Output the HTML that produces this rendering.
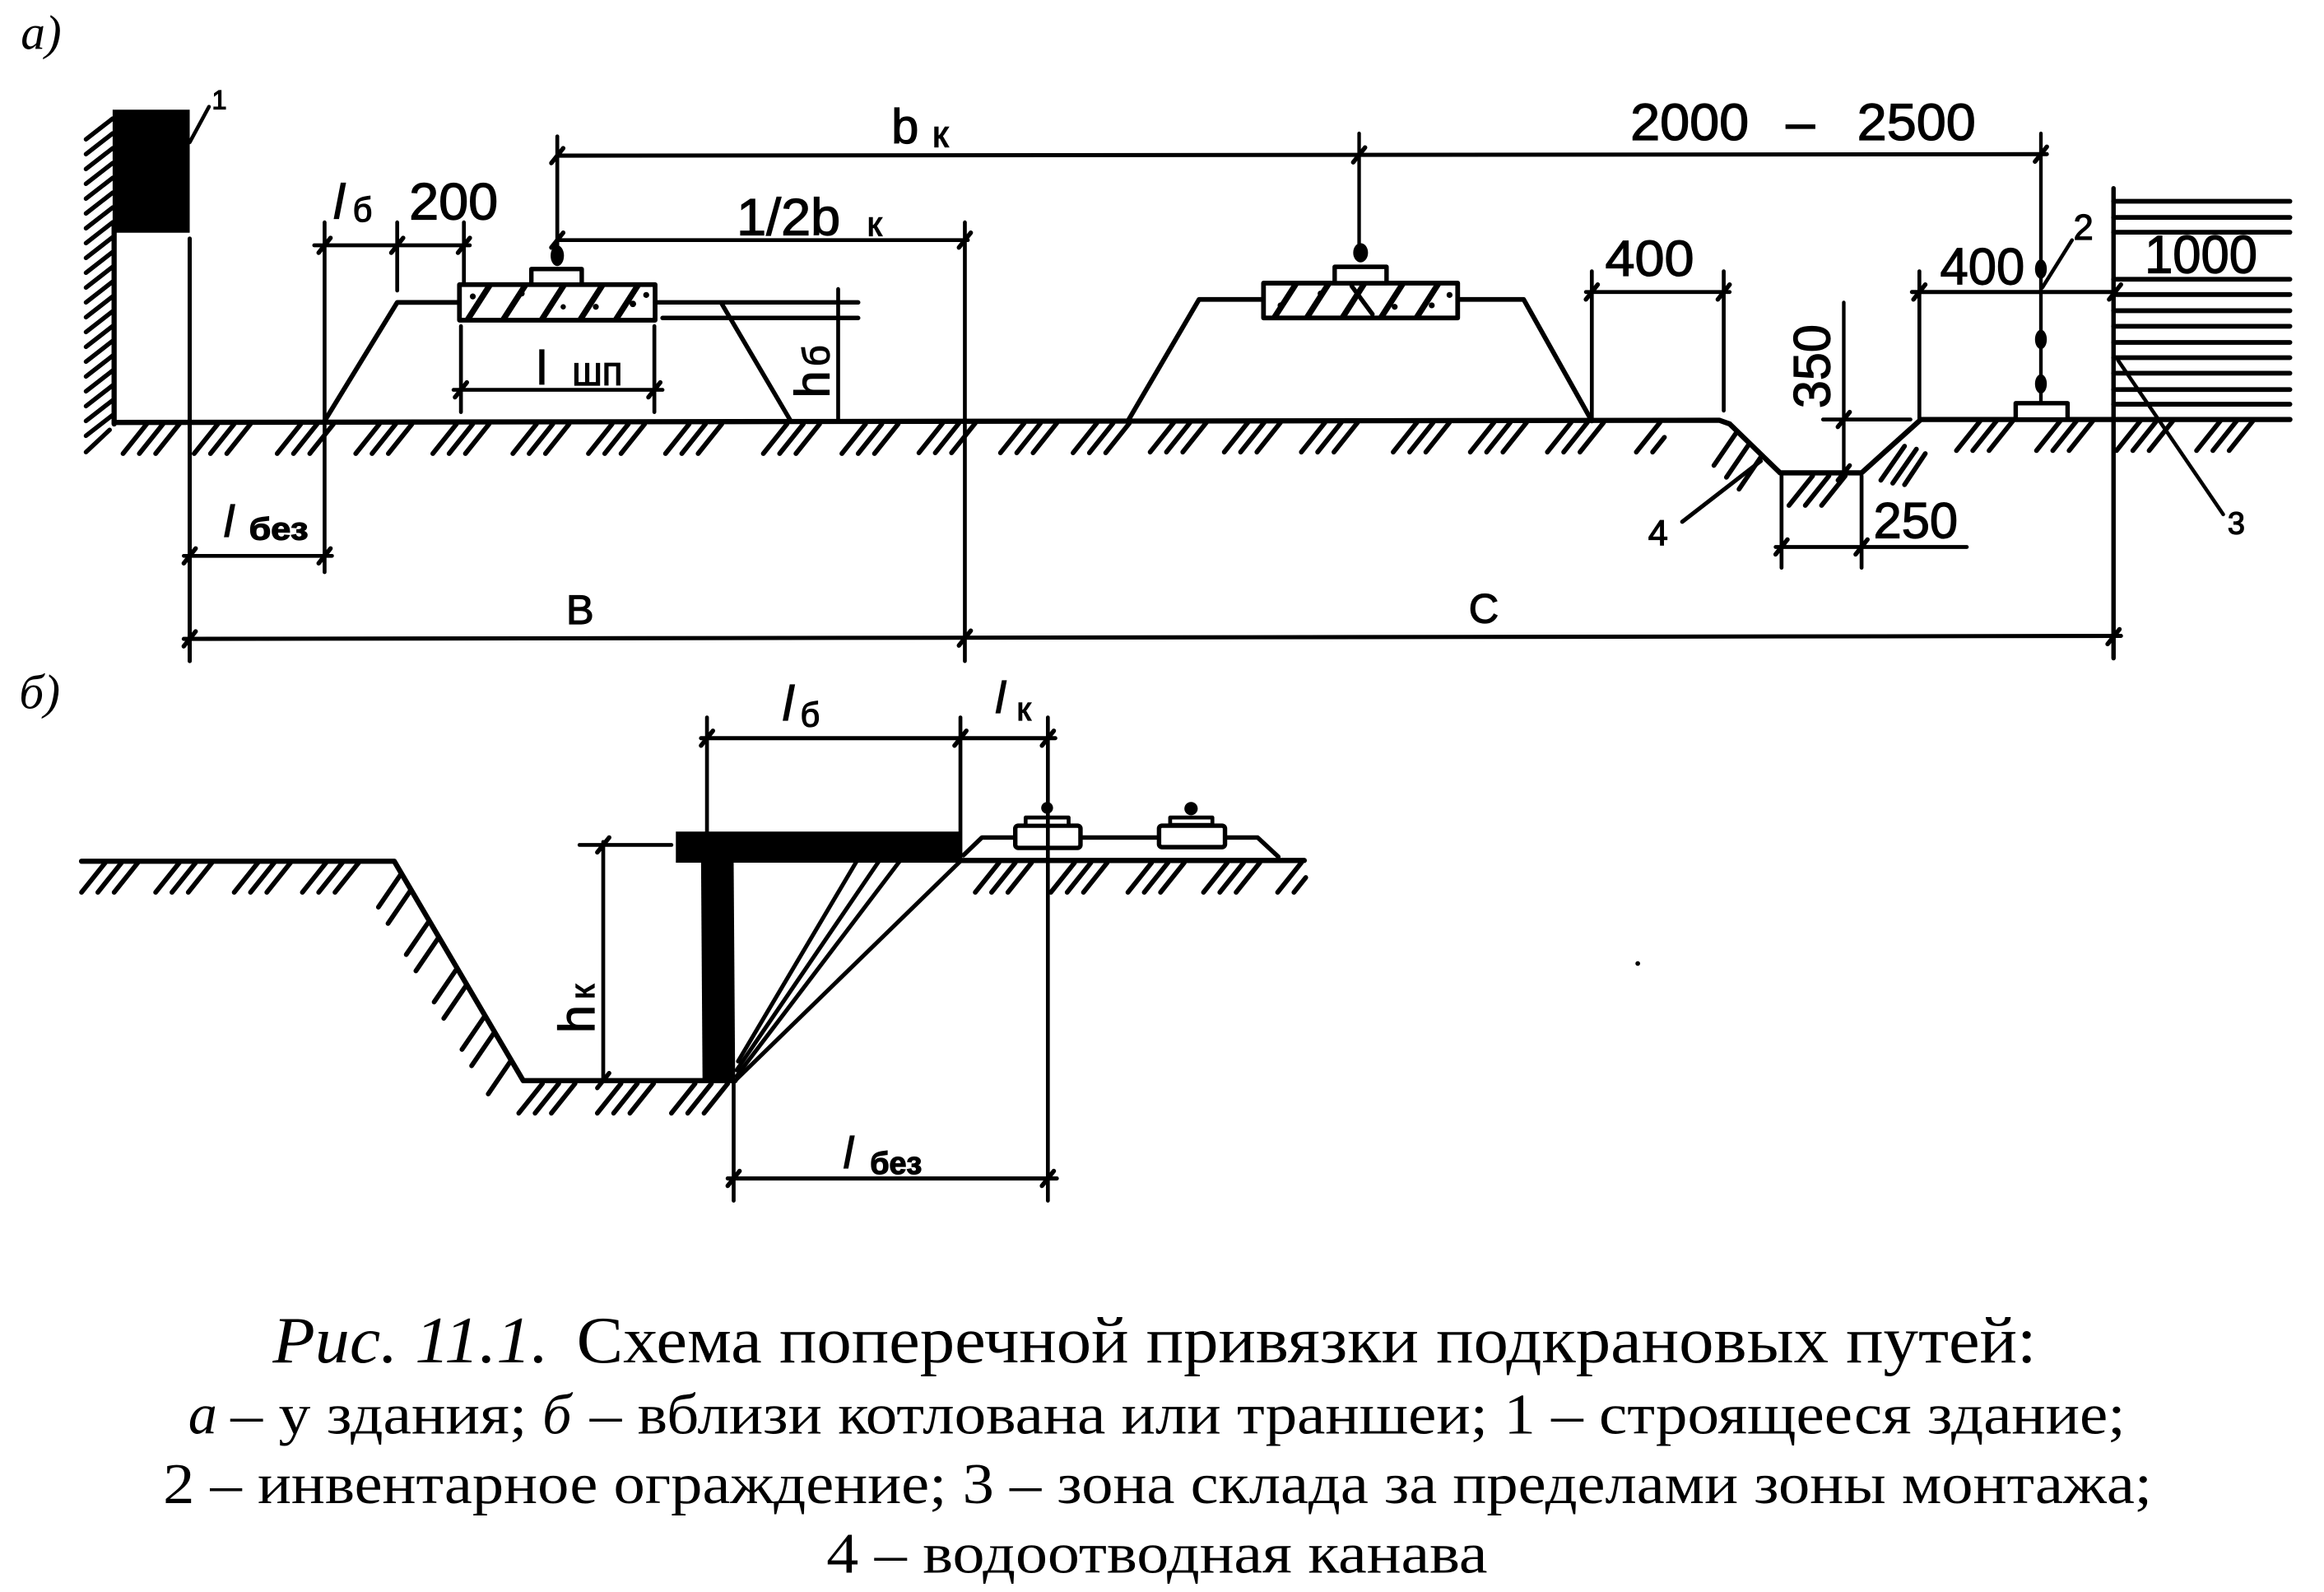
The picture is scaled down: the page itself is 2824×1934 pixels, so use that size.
<!DOCTYPE html>
<html><head><meta charset="utf-8">
<style>
html,body{margin:0;padding:0;background:#fff;}
svg{display:block;}
.t{font-family:"Liberation Sans",sans-serif;fill:#000;stroke:#000;stroke-width:0.7;}
.s{font-family:"Liberation Serif",serif;fill:#000;}
</style></head><body>
<svg width="2824" height="1934" viewBox="0 0 1568 1074" preserveAspectRatio="none" xmlns="http://www.w3.org/2000/svg">
<defs>
<g id="h3" stroke="#000" stroke-width="3.2" stroke-linecap="round" fill="none">
<line x1="0" y1="21" x2="16" y2="1"/>
<line x1="11" y1="21" x2="27" y2="1"/>
<line x1="22" y1="21" x2="38" y2="1"/>
</g>
<g id="h2" stroke="#000" stroke-width="3.2" stroke-linecap="round" fill="none">
<line x1="0" y1="21" x2="16" y2="1"/>
<line x1="11" y1="21" x2="19" y2="11"/>
</g>
<g id="tk"><line x1="-4" y1="5" x2="4" y2="-5" stroke="#000" stroke-width="3" stroke-linecap="round"/></g>
<clipPath id="c1"><rect x="310" y="192" width="132" height="24"/></clipPath>
<clipPath id="c2"><rect x="852.5" y="191" width="131" height="23.5"/></clipPath>
</defs>
<rect x="0" y="0" width="1568" height="1074" fill="#fff"/>

<!-- ========== PART A ========== -->
<text class="s" x="14" y="33" font-size="33" font-style="italic">а)</text>

<g stroke="#000" fill="none" stroke-linecap="round" stroke-linejoin="round">
<!-- building -->
<rect x="76" y="74" width="52" height="83" fill="#000" stroke="none"/>
<line x1="77" y1="150" x2="77" y2="286" stroke-width="3.5"/>
<g stroke-width="3">
<line x1="58" y1="94" x2="76" y2="80"/><line x1="58" y1="104" x2="76" y2="90"/>
<line x1="58" y1="114" x2="76" y2="100"/><line x1="58" y1="124" x2="76" y2="110"/>
<line x1="58" y1="134" x2="76" y2="120"/><line x1="58" y1="144" x2="76" y2="130"/>
<line x1="58" y1="154" x2="76" y2="140"/><line x1="58" y1="164" x2="76" y2="150"/>
<line x1="58" y1="174" x2="76" y2="160"/><line x1="58" y1="184" x2="76" y2="170"/>
<line x1="58" y1="194" x2="76" y2="180"/><line x1="58" y1="204" x2="76" y2="190"/>
<line x1="58" y1="214" x2="76" y2="200"/><line x1="58" y1="224" x2="76" y2="210"/>
<line x1="58" y1="234" x2="76" y2="220"/><line x1="58" y1="244" x2="76" y2="230"/>
<line x1="58" y1="254" x2="76" y2="240"/><line x1="58" y1="264" x2="76" y2="250"/>
<line x1="58" y1="274" x2="76" y2="260"/><line x1="58" y1="284" x2="76" y2="270"/>
<line x1="58" y1="294" x2="76" y2="280"/><line x1="58" y1="305" x2="74" y2="290"/>
</g>
<line x1="128" y1="96" x2="141" y2="72" stroke-width="2.5"/>
<line x1="128" y1="161" x2="128" y2="446" stroke-width="2.8"/>

<!-- ground -->
<polyline points="77,285 1160,283.5 1167,286 1201,319 1256,319 1296,283 1545,283" stroke-width="3.5"/>

<!-- left embankment -->
<polyline points="219,284 268,204 310,204" stroke-width="3.2"/>
<rect x="310" y="192" width="132" height="24" fill="#fff" stroke-width="3.2"/>
<g clip-path="url(#c1)" stroke-width="4">
<line x1="314" y1="218" x2="332" y2="190"/><line x1="338" y1="218" x2="356" y2="190"/>
<line x1="364" y1="218" x2="382" y2="190"/><line x1="390" y1="218" x2="408" y2="190"/>
<line x1="414" y1="218" x2="432" y2="190"/>
</g>
<g fill="#000" stroke="none">
<circle cx="319" cy="200" r="2"/><circle cx="352" cy="198" r="2"/><circle cx="402" cy="207" r="2"/>
<circle cx="427" cy="205" r="2.2"/><circle cx="436" cy="199" r="2"/><circle cx="380" cy="207" r="1.8"/>
</g>
<rect x="358.5" y="181.5" width="34" height="10.5" fill="#fff" stroke-width="3"/>
<ellipse cx="376" cy="172.5" rx="4.5" ry="7" fill="#000" stroke="none"/>
<line x1="376" y1="92" x2="376" y2="172" stroke-width="2.6"/>
<line x1="442" y1="204" x2="579" y2="204" stroke-width="3"/>
<line x1="447" y1="214.5" x2="579" y2="214.5" stroke-width="3"/>
<line x1="487" y1="205" x2="533.5" y2="284" stroke-width="3"/>
<line x1="565.5" y1="195" x2="565.5" y2="284" stroke-width="2.6"/>

<!-- lб / 200 -->
<line x1="212" y1="165.5" x2="317" y2="165.5" stroke-width="2.6"/>
<line x1="219" y1="150" x2="219" y2="386" stroke-width="2.6"/>
<line x1="268" y1="150" x2="268" y2="196" stroke-width="2.6"/>
<line x1="313" y1="150" x2="313" y2="192" stroke-width="2.6"/>

<!-- 1/2 bк -->
<line x1="376" y1="162" x2="653" y2="162" stroke-width="2.6"/>
<line x1="651" y1="150" x2="651" y2="446" stroke-width="2.6"/>
<!-- bк -->
<line x1="376" y1="105" x2="1381" y2="104" stroke-width="2.8"/>
<line x1="917" y1="90" x2="917" y2="170" stroke-width="2.4"/>

<!-- lшп -->
<line x1="311" y1="220" x2="311" y2="278" stroke-width="2.6"/>
<line x1="441.5" y1="220" x2="441.5" y2="278" stroke-width="2.6"/>
<line x1="306" y1="263" x2="447" y2="263" stroke-width="2.6"/>

<!-- lбез -->
<line x1="124" y1="375" x2="224" y2="375" stroke-width="2.6"/>

<!-- B / C -->
<line x1="124" y1="431" x2="1431" y2="429" stroke-width="2.8"/>

<!-- middle embankment -->
<polyline points="761,284 809,202 852.5,202" stroke-width="3.2"/>
<rect x="852.5" y="191" width="131" height="23.5" fill="#fff" stroke-width="3.2"/>
<g clip-path="url(#c2)" stroke-width="4">
<line x1="858" y1="217" x2="876" y2="189"/><line x1="880" y1="217" x2="898" y2="189"/>
<line x1="904" y1="217" x2="922" y2="189"/><line x1="930" y1="217" x2="948" y2="189"/>
<line x1="954" y1="217" x2="972" y2="189"/>
<line x1="912" y1="193" x2="926" y2="212" stroke-width="3"/>
</g>
<g fill="#000" stroke="none">
<circle cx="864" cy="206" r="2"/><circle cx="891" cy="198" r="2"/><circle cx="941" cy="207" r="2"/>
<circle cx="966" cy="206" r="2"/><circle cx="978" cy="199" r="2"/>
</g>
<rect x="900.5" y="180" width="35" height="11" fill="#fff" stroke-width="3"/>
<ellipse cx="918" cy="170.5" rx="5" ry="6.5" fill="#000" stroke="none"/>
<polyline points="983.5,202 1028,202 1074,284" stroke-width="3.2"/>

<!-- 400 middle -->
<line x1="1070" y1="197" x2="1167" y2="197" stroke-width="2.6"/>
<line x1="1074" y1="183" x2="1074" y2="284" stroke-width="2.6"/>
<line x1="1163" y1="183" x2="1163" y2="277" stroke-width="2.6"/>

<!-- 350 -->
<line x1="1244" y1="204" x2="1244" y2="319" stroke-width="2.4"/>
<line x1="1230" y1="283" x2="1289" y2="283" stroke-width="2.6"/>

<!-- 250 -->
<line x1="1202" y1="321" x2="1202" y2="383" stroke-width="2.6"/>
<line x1="1256" y1="321" x2="1256" y2="383" stroke-width="2.6"/>
<line x1="1198" y1="369" x2="1327" y2="369" stroke-width="2.6"/>

<!-- leader 4 -->
<line x1="1188" y1="311" x2="1135" y2="352" stroke-width="2.8"/>

<!-- right 400 -->
<line x1="1290" y1="197" x2="1427" y2="197" stroke-width="2.8"/>
<line x1="1295" y1="183" x2="1295" y2="283" stroke-width="2.6"/>

<!-- fence -->
<line x1="1377" y1="90" x2="1377" y2="272" stroke-width="2.4"/>
<ellipse cx="1377" cy="181.5" rx="4" ry="6.5" fill="#000" stroke="none"/>
<ellipse cx="1377" cy="229" rx="4" ry="6.5" fill="#000" stroke="none"/>
<ellipse cx="1377" cy="259" rx="4" ry="6.5" fill="#000" stroke="none"/>
<rect x="1360" y="272" width="35" height="11" fill="#fff" stroke-width="3"/>
<line x1="1378" y1="194" x2="1398" y2="162" stroke-width="2.5"/>

<!-- storage zone -->
<line x1="1426" y1="127" x2="1426" y2="444" stroke-width="3"/>
<g stroke-width="3.2">
<line x1="1426" y1="135.8" x2="1545" y2="135.8"/><line x1="1426" y1="146.7" x2="1545" y2="146.7"/>
<line x1="1426" y1="156.7" x2="1545" y2="156.7"/><line x1="1426" y1="188.4" x2="1545" y2="188.4"/>
<line x1="1426" y1="198.7" x2="1545" y2="198.7"/><line x1="1426" y1="209.6" x2="1545" y2="209.6"/>
<line x1="1426" y1="220.1" x2="1545" y2="220.1"/><line x1="1426" y1="231" x2="1545" y2="231"/>
<line x1="1426" y1="241.3" x2="1545" y2="241.3"/><line x1="1426" y1="251.8" x2="1545" y2="251.8"/>
<line x1="1426" y1="262.8" x2="1545" y2="262.8"/><line x1="1426" y1="272.7" x2="1545" y2="272.7"/>
</g>
<line x1="1429" y1="243" x2="1500" y2="347" stroke-width="2.5"/>

<!-- ditch hatch -->
<g stroke-width="3.2">
<line x1="1171.4" y1="292" x2="1156.4" y2="314"/>
<line x1="1179.8" y1="300" x2="1164.8" y2="322"/>
<line x1="1188.3" y1="308" x2="1173.3" y2="330"/>
<line x1="1269" y1="324" x2="1285" y2="301"/>
<line x1="1277" y1="326" x2="1293" y2="303"/>
<line x1="1285" y1="327" x2="1299" y2="306"/>
</g>
</g>

<!-- ground hatch part a -->
<use href="#h3" x="83" y="285"/><use href="#h3" x="131" y="285"/><use href="#h3" x="187" y="285"/>
<use href="#h3" x="240" y="285"/><use href="#h3" x="292" y="285"/><use href="#h3" x="346" y="285"/>
<use href="#h3" x="397" y="285"/><use href="#h3" x="449" y="285"/><use href="#h3" x="515" y="285"/>
<use href="#h3" x="568" y="285"/><use href="#h3" x="620" y="284.5"/><use href="#h3" x="675" y="284.5"/>
<use href="#h3" x="724" y="284.5"/><use href="#h3" x="776" y="284"/><use href="#h3" x="826" y="284"/>
<use href="#h3" x="878" y="284"/><use href="#h3" x="940" y="284"/><use href="#h3" x="992" y="284"/>
<use href="#h3" x="1044" y="284"/><use href="#h2" x="1104" y="284"/>
<use href="#h3" x="1207" y="320"/>
<use href="#h3" x="1320" y="283"/><use href="#h3" x="1374" y="283"/><use href="#h3" x="1428" y="283"/>
<use href="#h3" x="1482" y="283"/>

<!-- ticks part a -->
<use href="#tk" x="219" y="165.5"/><use href="#tk" x="268" y="165.5"/><use href="#tk" x="313" y="165.5"/>
<use href="#tk" x="376" y="162"/><use href="#tk" x="651" y="162"/>
<use href="#tk" x="376" y="105"/><use href="#tk" x="917" y="104.5"/><use href="#tk" x="1377" y="104"/>
<use href="#tk" x="311" y="263"/><use href="#tk" x="441.5" y="263"/>
<use href="#tk" x="128" y="375"/><use href="#tk" x="219" y="375"/>
<use href="#tk" x="128" y="431"/><use href="#tk" x="651" y="430.5"/><use href="#tk" x="1426" y="429.5"/>
<use href="#tk" x="1074" y="197"/><use href="#tk" x="1163" y="197"/>
<use href="#tk" x="1244" y="283"/><use href="#tk" x="1244" y="319"/>
<use href="#tk" x="1202" y="369"/><use href="#tk" x="1256" y="369"/>
<use href="#tk" x="1295" y="197"/><use href="#tk" x="1427" y="197"/>

<!-- labels part a -->
<text class="t" x="143" y="73.5" font-size="18">1</text>
<text class="t" x="225" y="147.5" font-size="33" font-style="italic">l</text>
<text class="t" x="238" y="149.5" font-size="23">б</text>
<text class="t" x="276" y="148" font-size="35" textLength="60" lengthAdjust="spacingAndGlyphs">200</text>
<text class="t" x="497" y="158.5" font-size="35" textLength="70" lengthAdjust="spacingAndGlyphs">1/2b</text>
<text class="t" x="585" y="159" font-size="23">к</text>
<text class="t" x="601.5" y="96.5" font-size="33">b</text>
<text class="t" x="629" y="99" font-size="25">к</text>
<text class="t" x="1100" y="94.5" font-size="35" textLength="80" lengthAdjust="spacingAndGlyphs">2000</text>
<text class="t" x="1205" y="94.5" font-size="35">–</text>
<text class="t" x="1253" y="94.5" font-size="35" textLength="80" lengthAdjust="spacingAndGlyphs">2500</text>
<text class="t" x="362" y="259" font-size="32">l</text>
<text class="t" x="386" y="260" font-size="28" textLength="34" lengthAdjust="spacingAndGlyphs">шп</text>
<text class="t" transform="translate(559.5,268.5) rotate(-90)"><tspan font-size="33">h</tspan><tspan font-size="25" dx="3">б</tspan></text>
<text class="t" x="151" y="362" font-size="30" font-style="italic">l</text>
<text class="t" x="168" y="364" font-size="21" font-weight="bold" textLength="40" lengthAdjust="spacingAndGlyphs">без</text>
<text class="t" x="382" y="421" font-size="28">B</text>
<text class="t" x="991" y="420" font-size="28">C</text>
<text class="t" x="1083" y="186" font-size="34" textLength="60" lengthAdjust="spacingAndGlyphs">400</text>
<text class="t" transform="translate(1234.5,275.5) rotate(-90)" font-size="35" textLength="56.6" lengthAdjust="spacingAndGlyphs">350</text>
<text class="t" x="1264" y="363" font-size="34" textLength="57" lengthAdjust="spacingAndGlyphs">250</text>
<text class="t" x="1112" y="368" font-size="24">4</text>
<text class="t" x="1309" y="192" font-size="35" textLength="57" lengthAdjust="spacingAndGlyphs">400</text>
<text class="t" x="1399" y="161.5" font-size="24">2</text>
<text class="t" x="1447" y="184" font-size="36" textLength="76" lengthAdjust="spacingAndGlyphs">1000</text>
<text class="t" x="1503" y="360" font-size="21">3</text>

<!-- ========== PART B ========== -->
<text class="s" x="13" y="478" font-size="33" font-style="italic">б)</text>

<g stroke="#000" fill="none" stroke-linecap="round" stroke-linejoin="round">
<polyline points="55,581 266,581 353,729 496,729" stroke-width="3.5"/>
<g stroke-width="3.2">
<line x1="270.3" y1="590" x2="255.3" y2="612"/>
<line x1="276.8" y1="601" x2="261.8" y2="623"/>
<line x1="289.1" y1="622" x2="274.1" y2="644"/>
<line x1="295.6" y1="633" x2="280.6" y2="655"/>
<line x1="307.9" y1="654" x2="292.9" y2="676"/>
<line x1="314.4" y1="665" x2="299.4" y2="687"/>
<line x1="326.7" y1="686" x2="311.7" y2="708"/>
<line x1="333.2" y1="697" x2="318.2" y2="719"/>
<line x1="344.4" y1="716" x2="329.4" y2="738"/>
</g>
<!-- hk -->
<line x1="407" y1="568" x2="407" y2="729" stroke-width="2.6"/>
<line x1="391" y1="570" x2="453" y2="570" stroke-width="2.6"/>
<!-- wall & bar -->
<polygon points="473,582 495,582 496,729 474,729" fill="#000" stroke="none"/>
<rect x="456" y="561" width="192" height="21" fill="#000" stroke="none"/>
<!-- fan -->
<g stroke-width="2.8">
<line x1="495" y1="730" x2="648" y2="581"/>
<line x1="497" y1="726" x2="607" y2="581"/>
<line x1="497" y1="722" x2="593" y2="581"/>
<line x1="498" y1="716" x2="578" y2="581"/>
</g>
<!-- lб / lк -->
<line x1="473" y1="498" x2="712" y2="498" stroke-width="2.8"/>
<line x1="477" y1="484" x2="477" y2="561" stroke-width="2.6"/>
<line x1="648" y1="484" x2="648" y2="578" stroke-width="2.6"/>
<!-- right ground & platform -->
<line x1="648" y1="580.5" x2="880" y2="580.5" stroke-width="3.5"/>
<polyline points="650,577 662.5,565 848.5,565 862.5,578" stroke-width="3"/>
<rect x="685" y="557" width="44" height="15" rx="2" fill="#fff" stroke-width="3"/>
<rect x="782" y="557" width="44.5" height="14.5" rx="2" fill="#fff" stroke-width="3"/>
<rect x="692" y="551.5" width="29" height="5.5" fill="#fff" stroke-width="2.6"/>
<rect x="789.5" y="551.5" width="28.5" height="5" fill="#fff" stroke-width="2.6"/>
<circle cx="706.5" cy="545" r="4" fill="#000" stroke="none"/>
<circle cx="803.6" cy="545.5" r="4.5" fill="#000" stroke="none"/>
<line x1="707" y1="484" x2="707" y2="810" stroke-width="2.6"/>
<!-- lбез -->
<line x1="495" y1="730" x2="495" y2="810" stroke-width="2.6"/>
<line x1="491" y1="795" x2="713" y2="795" stroke-width="2.8"/>
</g>
<circle cx="1105" cy="650" r="1.6" fill="#000"/>

<use href="#h3" x="55" y="581"/><use href="#h3" x="105" y="581"/><use href="#h3" x="158" y="581"/>
<use href="#h3" x="204" y="581"/>
<use href="#h3" x="350" y="730"/><use href="#h3" x="403" y="730"/><use href="#h3" x="453" y="730"/>
<use href="#h3" x="658" y="581"/><use href="#h3" x="709" y="581"/><use href="#h3" x="761" y="581"/>
<use href="#h3" x="812" y="581"/><use href="#h2" x="862" y="581"/>

<use href="#tk" x="407" y="570"/><use href="#tk" x="407" y="729"/>
<use href="#tk" x="477" y="498"/><use href="#tk" x="648" y="498"/><use href="#tk" x="707" y="498"/>
<use href="#tk" x="495" y="795"/><use href="#tk" x="707" y="795"/>

<text class="t" transform="translate(401,697) rotate(-90)"><tspan font-size="34">h</tspan><tspan font-size="23" dx="4">к</tspan></text>
<text class="t" x="528" y="486" font-size="33" font-style="italic">l</text>
<text class="t" x="540" y="490" font-size="23">б</text>
<text class="t" x="671.6" y="481" font-size="30" font-style="italic">l</text>
<text class="t" x="686" y="486" font-size="22">к</text>
<text class="t" x="569" y="788" font-size="30" font-style="italic">l</text>
<text class="t" x="587" y="792" font-size="21" font-weight="bold" textLength="35" lengthAdjust="spacingAndGlyphs">без</text>

<!-- ========== CAPTION ========== -->
<text class="s" x="184" y="919" font-size="45" font-style="italic" textLength="186" lengthAdjust="spacingAndGlyphs">Рис. 11.1.</text>
<text class="s" x="389" y="919" font-size="45" textLength="985" lengthAdjust="spacingAndGlyphs">Схема поперечной привязки подкрановых путей:</text>

<text class="s" x="127" y="967" font-size="39" font-style="italic">а</text>
<text class="s" x="155.6" y="967" font-size="39" textLength="200" lengthAdjust="spacingAndGlyphs">– у здания;</text>
<text class="s" x="366" y="967" font-size="39" font-style="italic">б</text>
<text class="s" x="398" y="967" font-size="39" textLength="1036" lengthAdjust="spacingAndGlyphs">– вблизи котлована или траншеи; 1 – строящееся здание;</text>

<text class="s" x="110" y="1014" font-size="39" textLength="1342" lengthAdjust="spacingAndGlyphs">2 – инвентарное ограждение; 3 – зона склада за пределами зоны монтажа;</text>

<text class="s" x="557.6" y="1061" font-size="39" textLength="446" lengthAdjust="spacingAndGlyphs">4 – водоотводная канава</text>
</svg>
</body></html>
